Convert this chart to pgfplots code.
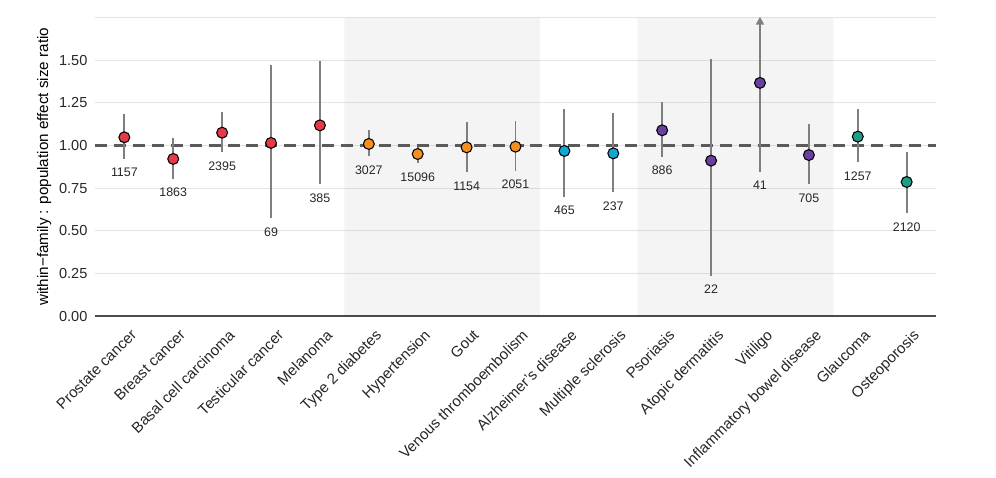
\documentclass[border=0pt]{standalone}
\usepackage{pgfplots}
\pgfplotsset{compat=1.18}
\usepackage{pgfplotstable}
\usepackage{fontspec}
\setmainfont{Liberation Sans}
\usetikzlibrary{arrows.meta}

\definecolor{cred}{HTML}{E63A4A}
\definecolor{corange}{HTML}{F5901E}
\definecolor{ccyan}{HTML}{12A8D4}
\definecolor{cpurple}{HTML}{6B3FA0}
\definecolor{cteal}{HTML}{1E9E87}
\definecolor{cigray}{HTML}{7F7F7F}
\definecolor{refline}{HTML}{5A5A5A}
\definecolor{gridc}{HTML}{E4E4E4}

% x = position, y = ratio, lo/hi = interval, n = count, g = group
\pgfplotstableread{
x  y     lo    hi    n     g
0  1.048 0.921 1.187 1157  a
1  0.921 0.804 1.046 1863  a
2  1.075 0.960 1.198 2395  a
3  1.015 0.573 1.470 69    a
4  1.118 0.772 1.496 385   a
5  1.009 0.937 1.089 3027  b
6  0.950 0.896 0.993 15096 b
7  0.989 0.843 1.136 1154  b
8  0.993 0.850 1.144 2051  b
9  0.968 0.700 1.214 465   c
10 0.954 0.725 1.189 237   c
11 1.089 0.934 1.253 886   d
12 0.911 0.236 1.505 22    d
13 1.367 0.846 1.367 41    d
14 0.944 0.772 1.124 705   d
15 1.052 0.901 1.216 1257  e
16 0.786 0.602 0.960 2120  e
}\data

\begin{document}
\begin{tikzpicture}
\begin{axis}[
  at={(0,0)}, anchor=south west,
  scale only axis,
  width=630.75pt, height=223.8pt,
  xmin=-0.6, xmax=16.6,
  ymin=0, ymax=1.75,
  clip=false,
  axis lines*=left,
  y axis line style={draw=none},
  x axis line style={draw=black!70, line width=1.1pt},
  major tick length=0pt,
  xtick={0,...,16},
  xticklabels={Prostate cancer, Breast cancer, Basal cell carcinoma, Testicular cancer, Melanoma, Type 2 diabetes, Hypertension, Gout, Venous thromboembolism, Alzheimer's disease, Multiple sclerosis, Psoriasis, Atopic dermatitis, Vitiligo, Inflammatory bowel disease, Glaucoma, Osteoporosis},
  xticklabel style={rotate=45, anchor=north east, inner sep=1pt, xshift=-2.5pt, yshift=-8.5pt,
    font=\fontsize{11.3}{13}\selectfont},
  ytick={0,0.25,0.5,0.75,1,1.25,1.5,1.75},
  yticklabels={0.00,0.25,0.50,0.75,1.00,1.25,1.50,},
  yticklabel style={font=\fontsize{10.9}{12}\selectfont, xshift=-2.2pt},
  ymajorgrids,
  grid style={draw=gridc, line width=0.8pt},
  tick label style={text=black!85},
  /pgf/number format/assume math mode=true,
  ylabel={within−family : population effect size ratio},
  ylabel style={font=\fontsize{11.4}{13}\selectfont, yshift=-1pt},
]

% shaded groups
\addplot[draw=none, fill=black, fill opacity=0.045] coordinates {(4.5,0) (8.5,0) (8.5,1.75) (4.5,1.75)} \closedcycle;
\addplot[draw=none, fill=black, fill opacity=0.045] coordinates {(10.5,0) (14.5,0) (14.5,1.75) (10.5,1.75)} \closedcycle;

% reference line
\addplot[refline, line width=2.2pt, dash pattern=on 9pt off 5.2pt] coordinates {(-0.6,1) (16.6,1)};

% intervals
\addplot[only marks, mark=none,
  error bars/.cd, y dir=both, y explicit, error mark=none,
  error bar style={cigray, line width=1.4pt}]
  table[x=x, y=y, y error plus expr=\thisrow{hi}-\thisrow{y}, y error minus expr=\thisrow{y}-\thisrow{lo}] {\data};
\addplot[cigray, line width=1.4pt, -{Triangle[width=6pt, length=6pt]}] coordinates {(13,1.367) (13,1.755)};

% points
\addplot[scatter, only marks, point meta=explicit symbolic,
  scatter/classes={
    a={mark=*, draw=black, fill=cred},
    b={mark=*, draw=black, fill=corange},
    c={mark=*, draw=black, fill=ccyan},
    d={mark=*, draw=black, fill=cpurple},
    e={mark=*, draw=black, fill=cteal}},
  mark size=4.1pt, mark options={line width=0.8pt}]
  table[x=x, y=y, meta=g] {\data};

% counts
\addplot[only marks, mark=none, nodes near coords, point meta=explicit symbolic,
  nodes near coords align={anchor=center},
  every node near coord/.append style={font=\fontsize{9.3}{11}\selectfont, text=black!85, yshift=-10.2pt}]
  table[x=x, y=lo, meta=n] {\data};

\end{axis}
\pgfresetboundingbox
\path[use as bounding box] (-71.25pt,-121.5pt) rectangle (675.75pt,237pt);
\end{tikzpicture}
\end{document}
